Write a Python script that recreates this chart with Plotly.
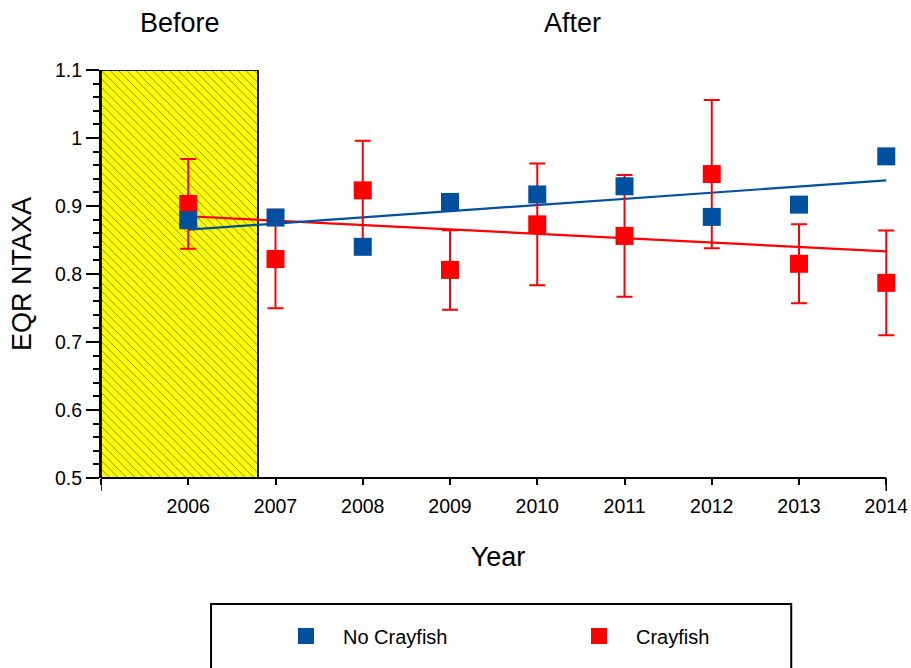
import numpy as np
import plotly.graph_objects as go

years = [2006, 2007, 2008, 2009, 2010, 2011, 2012, 2013, 2014]
no_crayfish = [0.879, 0.883, 0.840, 0.906, 0.917, 0.929, 0.884, 0.902, 0.973]
crayfish = [0.903, 0.822, 0.923, 0.806, 0.873, 0.856, 0.947, 0.815, 0.787]
crayfish_err = [0.066, 0.0725, 0.073, 0.0585, 0.0895, 0.0895, 0.109, 0.058, 0.077]

before_start, before_end = 2005, 2006.8
axis_start, axis_end = 2005, 2014
x_range = [2005, 2014.1]
y_range = [0.5, 1.1]
y_ticks = [0.5, 0.6, 0.7, 0.8, 0.9, 1.0, 1.1]
y_ticktext = ["0.5", "0.6", "0.7", "0.8", "0.9", "1", "1.1"]
x_ticks = list(range(2005, 2015))
x_ticktext = [""] + [str(y) for y in years]

BLUE = "#00509F"
RED = "#FF0000"
FONT = "Liberation Sans, Arial, sans-serif"

fig = go.Figure()

# Before period hatched box
fig.add_trace(go.Bar(
    x=[(before_start + before_end) / 2], y=[y_range[1] - y_range[0]], base=[y_range[0]],
    width=[before_end - before_start],
    marker=dict(color="#FFFF00", line=dict(color="#111111", width=2),
                pattern=dict(shape="\\", fgcolor="#000000", bgcolor="#FFFF00",
                             size=6, solidity=0.12, fgopacity=0.65)),
    showlegend=False, hoverinfo="skip"))

# Trend lines (linear regression)
xs = np.array(years, dtype=float)
for vals, col in [(crayfish, RED), (no_crayfish, BLUE)]:
    k, b = np.polyfit(xs, np.array(vals), 1)
    ends = [years[0], years[-1]]
    fig.add_trace(go.Scatter(x=ends, y=[k * e + b for e in ends], mode="lines",
                             line=dict(color=col, width=2.2), showlegend=False,
                             hoverinfo="skip"))

fig.add_trace(go.Scatter(
    x=years, y=crayfish, mode="markers", name="Crayfish",
    marker=dict(symbol="square", size=18, color=RED),
    error_y=dict(type="data", array=crayfish_err, color=RED, thickness=2, width=8),
    cliponaxis=False))
fig.add_trace(go.Scatter(
    x=years, y=no_crayfish, mode="markers", name="No Crayfish",
    marker=dict(symbol="square", size=18, color=BLUE),
    cliponaxis=False))

W, H = 911, 668
L, T, B = 101, 70, 190
px_per_year = (886 - 101) / (axis_end - axis_start)
pw = px_per_year * (x_range[1] - x_range[0])
R = W - L - pw
ph = H - T - B


def px_x(p):
    return (p - L) / pw


def px_y(p):
    return (H - B - p) / ph


shapes = [
    # x axis line ending at 2014
    dict(type="line", xref="x", yref="y domain", x0=axis_start, x1=axis_end,
         y0=0, y1=0, line=dict(color="black", width=2)),
    dict(type="line", xref="x", yref="y domain", x0=axis_start, x1=axis_start,
         y0=0, y1=-13 / ph, line=dict(color="black", width=1.5)),
    dict(type="line", xref="x", yref="y domain", x0=axis_end, x1=axis_end,
         y0=0, y1=-13 / ph, line=dict(color="black", width=1.5)),
    dict(type="rect", xref="paper", yref="paper", x0=px_x(211), x1=px_x(791),
         y0=px_y(604), y1=px_y(720), line=dict(color="black", width=2),
         fillcolor="rgba(0,0,0,0)"),
]

annotations = [
    dict(text="Before", x=(before_start + before_end) / 2, xref="x", y=px_y(23),
         yref="paper", showarrow=False, font=dict(size=27, color="black"),
         xanchor="center", yanchor="middle"),
    dict(text="After", x=(before_end + axis_end) / 2, xref="x", y=px_y(23),
         yref="paper", showarrow=False, font=dict(size=27, color="black"),
         xanchor="center", yanchor="middle"),
]

fig.update_layout(
    width=W, height=H,
    margin=dict(l=L, r=R, t=T, b=B, autoexpand=False),
    paper_bgcolor="white", plot_bgcolor="white",
    font=dict(family=FONT, color="black", size=19.5),
    shapes=shapes, annotations=annotations,
    bargap=0,
    legend=dict(orientation="h", xref="container", yref="container",
                x=269 / W, y=1 - 636 / H, xanchor="left",
                yanchor="middle", traceorder="reversed",
                itemwidth=64, entrywidth=214, entrywidthmode="pixels",
                font=dict(size=20), bgcolor="rgba(0,0,0,0)", borderwidth=0),
    xaxis=dict(range=x_range, showgrid=False, zeroline=False, showline=False,
               ticks="outside", ticklen=6,
               tickwidth=1.5, tickcolor="black", tickvals=x_ticks,
               ticktext=x_ticktext, ticklabelstandoff=5,
               title=dict(text="Year", font=dict(size=27), standoff=30)),
    yaxis=dict(range=y_range, showgrid=False, zeroline=False, showline=True,
               linecolor="black", linewidth=2, ticks="outside", ticklen=13,
               tickwidth=1.5, tickcolor="black", tickvals=y_ticks,
               ticktext=y_ticktext,
               minor=dict(dtick=0.02, tick0=0.5, ticks="outside", ticklen=6,
                          tickwidth=1.5, tickcolor="black", showgrid=False),
               title=dict(text="EQR NTAXA", font=dict(size=27), standoff=16)),
)

fig.write_html("out.html")
